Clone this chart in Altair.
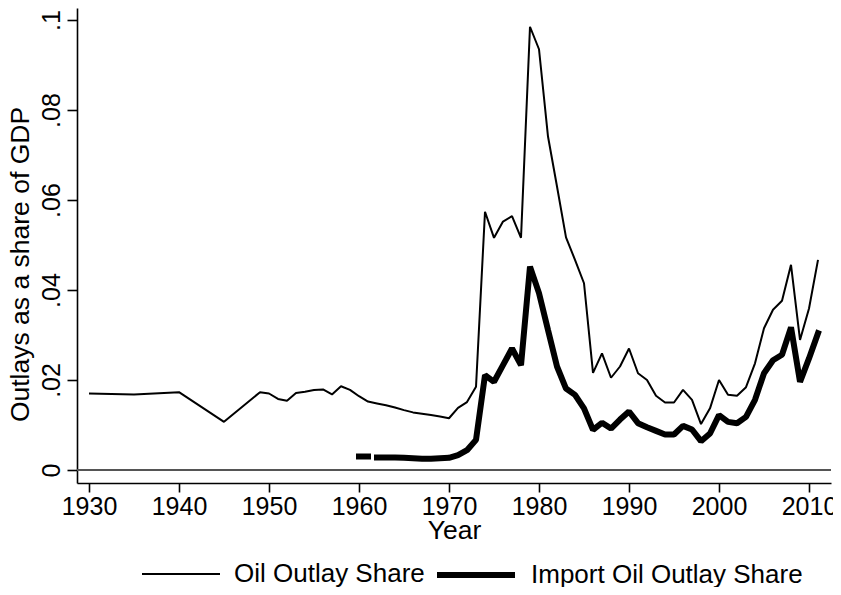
import altair as alt
import pandas as pd

# ---------------- data ----------------
oil_years = [1930, 1935, 1940, 1945, 1949, 1950, 1951, 1952, 1953, 1954,
             1955, 1956, 1957, 1958, 1959, 1960, 1961, 1962, 1963, 1964,
             1965, 1966, 1967, 1968, 1969, 1970, 1971, 1972, 1973, 1974,
             1975, 1976, 1977, 1978, 1979, 1980, 1981, 1982, 1983, 1984,
             1985, 1986, 1987, 1988, 1989, 1990, 1991, 1992, 1993, 1994,
             1995, 1996, 1997, 1998, 1999, 2000, 2001, 2002, 2003, 2004,
             2005, 2006, 2007, 2008, 2009, 2010, 2011]
oil_share = [0.0170, 0.0168, 0.0173, 0.0107, 0.0173, 0.0170, 0.0158, 0.0154, 0.0171, 0.0174,
             0.0178, 0.0179, 0.0168, 0.0186, 0.0178, 0.0164, 0.0152, 0.0148, 0.0144, 0.0139,
             0.0133, 0.0128, 0.0125, 0.0122, 0.0119, 0.0115, 0.0138, 0.0151, 0.0185, 0.0574,
             0.0516, 0.0552, 0.0564, 0.0516, 0.0985, 0.0935, 0.0741, 0.0630, 0.0517, 0.0467,
             0.0415, 0.0216, 0.0259, 0.0205, 0.0230, 0.0270, 0.0215, 0.0200, 0.0165, 0.0150,
             0.0150, 0.0178, 0.0156, 0.0102, 0.0137, 0.0200, 0.0167, 0.0165, 0.0184, 0.0237,
             0.0315, 0.0356, 0.0376, 0.0456, 0.0289, 0.0359, 0.0467]

imp_years = [1960, 1961,
             1962, 1963, 1964, 1965, 1966, 1967, 1968, 1969, 1970, 1971,
             1972, 1973, 1974, 1975, 1976, 1977, 1978, 1979, 1980, 1981,
             1982, 1983, 1984, 1985, 1986, 1987, 1988, 1989, 1990, 1991,
             1992, 1993, 1994, 1995, 1996, 1997, 1998, 1999, 2000, 2001,
             2002, 2003, 2004, 2005, 2006, 2007, 2008, 2009, 2010, 2011]
imp_share = [0.0030, 0.0030,
             0.0028, 0.0028, 0.0028, 0.0027, 0.0026, 0.0025, 0.0025, 0.0026, 0.0027, 0.0033,
             0.0044, 0.0067, 0.0211, 0.0196, 0.0233, 0.0270, 0.0233, 0.0452, 0.0393, 0.0311,
             0.0230, 0.0181, 0.0167, 0.0137, 0.0089, 0.0105, 0.0092, 0.0112, 0.0130, 0.0104,
             0.0095, 0.0087, 0.0079, 0.0079, 0.0098, 0.0090, 0.0064, 0.0081, 0.0122, 0.0107,
             0.0104, 0.0118, 0.0156, 0.0215, 0.0244, 0.0256, 0.0317, 0.0196, 0.0248, 0.0304]
imp_segment = [1, 1] + [2] * (len(imp_years) - 2)

series_names = ["Oil Outlay Share", "Import Oil Outlay Share"]
x_ticks = [1930, 1940, 1950, 1960, 1970, 1980, 1990, 2000, 2010]
y_ticks = [0, 0.02, 0.04, 0.06, 0.08, 0.1]

oil_df = pd.DataFrame({"year": oil_years, "share": oil_share,
                       "series": series_names[0], "seg": 0})
imp_df = pd.DataFrame({"year": imp_years, "share": imp_share,
                       "series": series_names[1], "seg": imp_segment})
zero_df = pd.DataFrame({"share": [0.0]})

FONT = "Liberation Sans"

x_enc = alt.X(
    "year:Q",
    scale=alt.Scale(domain=[1928.667, 2012.444], nice=False, zero=False),
    axis=alt.Axis(values=x_ticks, format="d", title="Year",
                  tickSize=9, labelPadding=2, labelFlush=False, labelOverlap=False,
                  titleY=55, titleBaseline="alphabetic"),
)
y_enc = alt.Y(
    "share:Q",
    scale=alt.Scale(domain=[-0.002889, 0.102667], nice=False, zero=False),
    axis=alt.Axis(values=y_ticks,
                  labelExpr="datum.value == 0 ? '0' : replace(format(datum.value, '.2~f'), '0.', '.')",
                  title="Outlays as a share of GDP",
                  tickSize=10, labelAngle=270, labelAlign="center", labelBaseline="bottom",
                  labelPadding=3, labelFlush=False, labelOverlap=False,
                  titleX=-49, titleY=256, titleAngle=270, titleAlign="center",
                  titleBaseline="alphabetic"),
)

legend = alt.Legend(title=None, orient="none", legendX=64, legendY=525,
                    direction="horizontal", symbolType="stroke", symbolSize=6084,
                    symbolStrokeColor="black", labelFont=FONT, labelFontSize=26,
                    labelColor="black", labelOffset=13, columnPadding=0,
                    padding=0, labelLimit=500)
w_enc = alt.StrokeWidth("series:O",
                        scale=alt.Scale(domain=series_names, range=[2, 6]),
                        legend=legend)

zero_rule = alt.Chart(zero_df).mark_rule(color="#555555", strokeWidth=2).encode(y=y_enc)

thin = alt.Chart(oil_df).mark_line(color="black", strokeJoin="bevel").encode(
    x=x_enc, y=y_enc, strokeWidth=w_enc, detail="seg:N")

thick = alt.Chart(imp_df).mark_line(color="black", strokeJoin="bevel",
                                    strokeCap="square").encode(
    x=x_enc, y=y_enc, strokeWidth=w_enc, detail="seg:N")

chart = alt.layer(zero_rule, thin, thick).properties(
    width=754, height=475,
    autosize=alt.AutoSizeParams(type="none"),
    padding={"left": 69, "top": 0, "right": 2, "bottom": 104},
    background="white",
).configure_view(stroke=None).configure_axis(
    domainColor="black", domainWidth=1.6, tickColor="black", tickWidth=1.6,
    grid=False, labelFont=FONT, labelFontSize=25, labelColor="black",
    titleFont=FONT, titleFontSize=26.5, titleColor="black", titleFontWeight="normal",
)

chart.save("out.html", embed_options={"renderer": "svg", "actions": False})
